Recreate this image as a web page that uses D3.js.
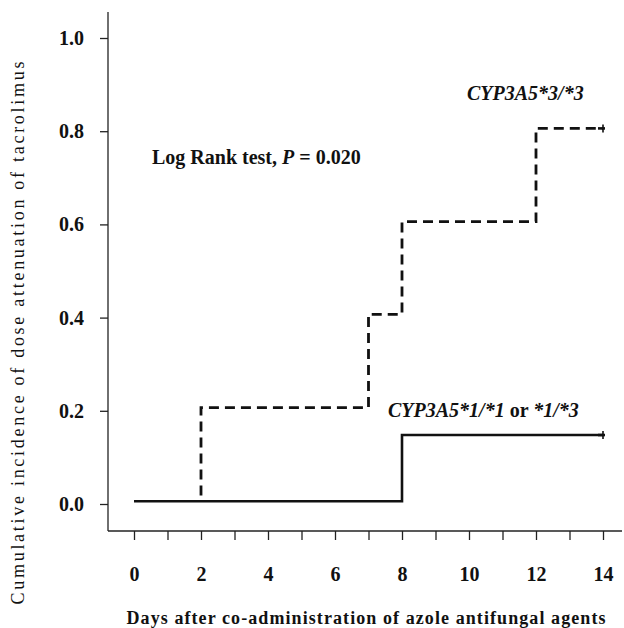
<!DOCTYPE html>
<html>
<head>
<meta charset="utf-8">
<script src="https://cdn.jsdelivr.net/npm/d3@7"></script>
<style>
    body { margin: 0; background: #fff; }
    svg { display: block; }
</style>
</head>
<body>
<div id="chart"></div>
<script>
// Data
const dayTicks = d3.range(0, 15);
const dayLabels = [0, 2, 4, 6, 8, 10, 12, 14];
const yTicks = [0.0, 0.2, 0.4, 0.6, 0.8, 1.0];

// CYP3A5*3/*3 (dashed)
const poorDays = [0, 2, 7, 8, 12, 14];
const poorIncidence = [0.006, 0.207, 0.407, 0.606, 0.806, 0.806];

// CYP3A5*1/*1 or *1/*3 (solid)
const extDays = [0, 8, 14];
const extIncidence = [0.006, 0.148, 0.148];

const width = 624, height = 628;
const SERIF = '"Liberation Serif"';

const svg = d3.select('#chart')
    .append('svg')
    .attr('width', width)
    .attr('height', height);

// apply font styles inline on each text
function font(sel, size, weight, italic) {
    return sel
        .attr('font-family', 'Liberation Serif')
        .style('font-family', SERIF)
        .style('font-size', size + 'px')
        .style('font-weight', weight || 'normal')
        .style('font-style', italic ? 'italic' : 'normal')
        .attr('fill', '#111');
}

const x = d3.scaleLinear().domain([0, 14]).range([134, 603]);
const y = d3.scaleLinear().domain([0, 1]).range([504, 38]);

// Axis frame
svg.append('line')
    .attr('x1', 108).attr('x2', 108)
    .attr('y1', 12).attr('y2', 531)
    .attr('stroke', '#222').attr('stroke-width', 1.3);
svg.append('line')
    .attr('x1', 108).attr('x2', 622)
    .attr('y1', 531).attr('y2', 531)
    .attr('stroke', '#222').attr('stroke-width', 1.3);

// Y axis ticks + labels
const yAxis = d3.axisLeft(y)
    .tickValues(yTicks)
    .tickSize(8)
    .tickPadding(16)
    .tickFormat(d3.format('.1f'));
const gy = svg.append('g')
    .attr('transform', 'translate(108,0)')
    .call(yAxis)
    .attr('font-family', null);
gy.select('.domain').remove();
gy.selectAll('.tick line').attr('stroke', '#222').attr('stroke-width', 1.3);
font(gy.selectAll('.tick text'), 20, 'bold');

// X axis ticks (every day) + labels (every 2 days)
const xAxis = d3.axisBottom(x)
    .tickValues(dayTicks)
    .tickSize(9)
    .tickPadding(27)
    .tickFormat(d => dayLabels.includes(d) ? d : '');
const gx = svg.append('g')
    .attr('transform', 'translate(0,531)')
    .call(xAxis)
    .attr('font-family', null);
gx.select('.domain').remove();
gx.selectAll('.tick line').attr('stroke', '#222').attr('stroke-width', 1.3);
font(gx.selectAll('.tick text'), 20, 'bold');

// Step curves
const step = d3.line()
    .x(d => x(d[0]))
    .y(d => y(d[1]))
    .curve(d3.curveStepAfter);

const extPts = d3.zip(extDays, extIncidence);
const poorPts = d3.zip(poorDays, poorIncidence).slice(1);
poorPts.unshift([2, 0.018]);

svg.append('path')
    .datum(extPts)
    .attr('d', step)
    .attr('fill', 'none')
    .attr('stroke', '#111')
    .attr('stroke-width', 2.6);

svg.append('path')
    .datum(poorPts)
    .attr('d', step)
    .attr('fill', 'none')
    .attr('stroke', '#111')
    .attr('stroke-width', 2.8)
    .attr('stroke-dasharray', '10,6');

// Censor marks at the end of each curve
const censored = [
    [extDays[extDays.length - 1], extIncidence[extIncidence.length - 1]],
    [poorDays[poorDays.length - 1], poorIncidence[poorIncidence.length - 1]]
];
svg.selectAll('.censor')
    .data(censored)
    .enter()
    .append('line')
    .attr('class', 'censor')
    .attr('x1', d => x(d[0])).attr('x2', d => x(d[0]))
    .attr('y1', d => y(d[1]) - 4).attr('y2', d => y(d[1]) + 4)
    .attr('stroke', '#111').attr('stroke-width', 1.6);
svg.selectAll('.censor-h')
    .data(censored)
    .enter()
    .append('line')
    .attr('x1', d => x(d[0]) - 5).attr('x2', d => x(d[0]) + 2)
    .attr('y1', d => y(d[1])).attr('y2', d => y(d[1]))
    .attr('stroke', '#111').attr('stroke-width', 2.6);

// Annotations
const logRank = font(svg.append('text'), 20, 'bold')
    .attr('x', 152).attr('y', 164);
logRank.append('tspan').text('Log Rank test, ');
logRank.append('tspan').style('font-style', 'italic').text('P');
logRank.append('tspan').text(' = 0.020');

font(svg.append('text'), 20, 'bold', true)
    .attr('x', 467).attr('y', 100)
    .text('CYP3A5*3/*3');

const extLabel = font(svg.append('text'), 20, 'bold')
    .attr('x', 388).attr('y', 417);
extLabel.append('tspan').style('font-style', 'italic').text('CYP3A5*1/*1');
extLabel.append('tspan').text(' or ');
extLabel.append('tspan').style('font-style', 'italic').text('*1/*3');

// Axis titles
font(svg.append('text'), 18)
    .attr('transform', 'translate(24,333) rotate(-90)')
    .attr('text-anchor', 'middle')
    .attr('textLength', 543)
    .attr('lengthAdjust', 'spacing')
    .text('Cumulative incidence of dose attenuation of tacrolimus');

font(svg.append('text'), 18, 'bold')
    .attr('x', 366).attr('y', 624)
    .attr('text-anchor', 'middle')
    .attr('textLength', 479)
    .attr('lengthAdjust', 'spacing')
    .text('Days after co-administration  of azole antifungal  agents');
</script>
</body>
</html>
